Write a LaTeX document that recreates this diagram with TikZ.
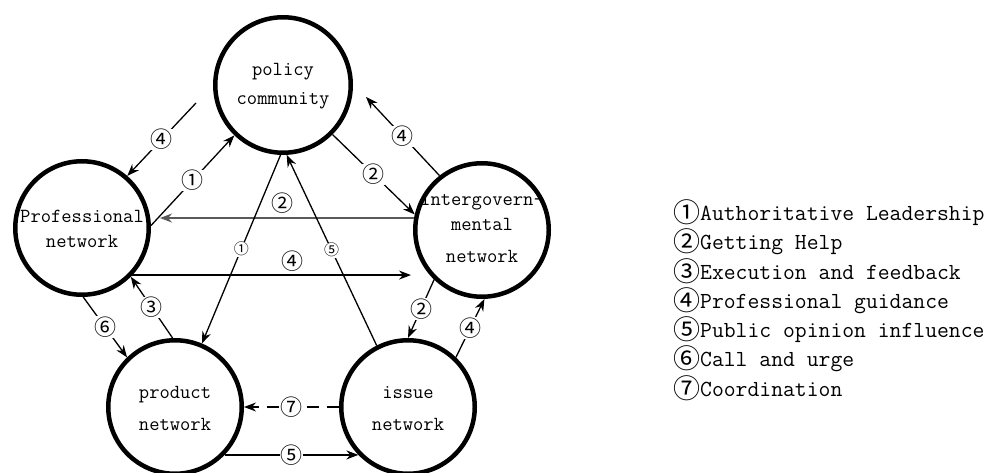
\documentclass[tikz,border=0pt]{standalone}
\usepackage{fontspec}
\usetikzlibrary{arrows.meta,calc}
\newfontfamily\cjk{Noto Sans CJK SC}
\newcommand{\legc}[1]{\makebox[26pt][c]{\raisebox{-2.5pt}{\cjk\fontsize{27}{27}\selectfont #1}}}
\tikzset{
  net/.style={draw, circle, line width=4.5pt, minimum size=133.5pt, inner sep=0pt},
  ntext/.style={anchor=base, inner sep=0pt, font=\ttfamily\fontsize{20}{20}\selectfont},
  arr/.style={line width=1.3pt, -{Stealth[length=12pt,width=9pt]}},
  lab/.style={fill=white, inner sep=0.5pt, font=\cjk\fontsize{22}{22}\selectfont},
  slab/.style={fill=white, inner sep=0.5pt, font=\cjk\fontsize{15}{15}\selectfont},
  legend/.style={anchor=base west, inner sep=0pt, font=\ttfamily\fontsize{23}{23}\selectfont},
  dash7/.style={dash pattern=on 12pt off 8pt}
}
\begin{document}
\begin{tikzpicture}[x=1pt,y=-1pt]
\useasboundingbox (0,0) rectangle (992,473);
\fill[white] (0,0) rectangle (992,473);
% networks
\node[net, minimum size=135.5pt] (pc) at (283,85) {};
\node[net] (prof) at (82,228) {};
\node[net] (ig) at (482,230) {};
\node[net] (prod) at (175,407) {};
\node[net] (iss) at (408,407) {};
% texts
\node[ntext] (t1) at (283,76) {policy};
\node[ntext] (t2) at (283,105) {community};
\node[ntext] (t3) at (82,222) {Professional};
\node[ntext] (t4) at (82,247) {network};
\node[ntext] (t5) at (482,205) {intergovern-};
\node[ntext] (t6) at (482,230) {mental};
\node[ntext] (t7) at (482,262) {network};
\node[ntext] (t8) at (175,398) {product};
\node[ntext] (t9) at (175,430) {network};
\node[ntext] (t10) at (408,398) {issue};
\node[ntext] (t11) at (408,430) {network};
% free ends
\coordinate (pcfree) at (196,103);
\coordinate (pcfree2) at (366,97);
% connectors
\draw[arr] (pcfree) -- node[lab]{④} (prof.49);
\draw[arr] (prof.2) -- node[lab]{①} (pc.226);
\draw[arr] (pc.-45) -- node[lab]{②} (ig.167);
\draw[arr] (ig.128) -- node[lab]{④} (pcfree2);
\draw[arr, draw=black!65, shorten >=9pt] (ig.170) -- node[lab, above=3pt]{②} (ig.170 -| prof.east);
\draw[arr, shorten >=2pt] (prof.-43) -- node[lab, pos=0.57, above=3pt]{④} (prof.-43 -| ig.west);
\draw[arr] (pc.268) -- node[slab]{①} (prod.67);
\draw[arr] (iss.117) -- node[slab]{⑤} (pc.273);
\draw[arr] (prod.92) -- node[lab]{③} (prof.-45);
\draw[arr] (prof.271) -- node[lab]{⑥} (prod.134);
\draw[arr] (ig.226) -- node[lab]{②} (iss.90);
\draw[arr] (iss.46) -- node[lab]{④} (ig.272);
\draw[arr, dash7] (iss.west) -- node[lab]{⑦} (prod.east);
\draw[arr] (prod.-44) -- node[lab]{⑤} (iss.224);
% legend
\node[legend] (l1) at (674,220) {\legc{①}Authoritative Leadership};
\node[legend] (l2) at (674,249) {\legc{②}Getting Help};
\node[legend] (l3) at (674,279) {\legc{③}Execution and feedback};
\node[legend] (l4) at (674,308) {\legc{④}Professional guidance};
\node[legend] (l5) at (674,337) {\legc{⑤}Public opinion influence};
\node[legend] (l6) at (674,366) {\legc{⑥}Call and urge};
\node[legend] (l7) at (674,396) {\legc{⑦}Coordination};
\end{tikzpicture}
\end{document}
